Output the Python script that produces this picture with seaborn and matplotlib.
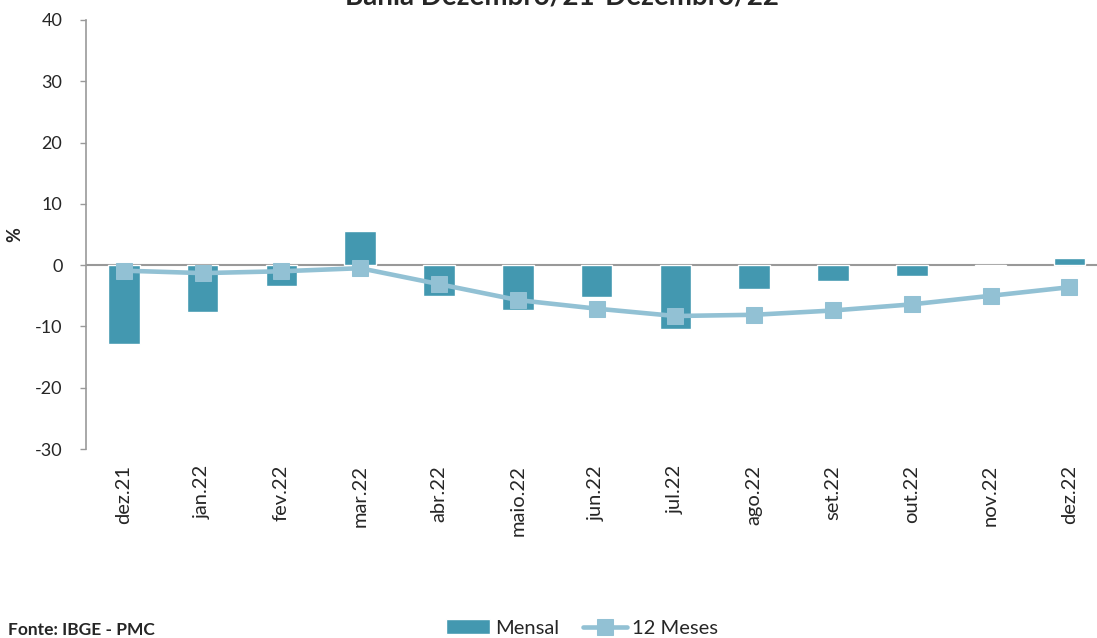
import matplotlib
matplotlib.use("Agg")
import matplotlib.pyplot as plt
import seaborn as sns
import pandas as pd
import numpy as np

categories = ["dez.21", "jan.22", "fev.22", "mar.22", "abr.22", "maio.22", "jun.22",
              "jul.22", "ago.22", "set.22", "out.22", "nov.22", "dez.22"]
mensal = [-12.8, -7.7, -3.4, 5.5, -5.0, -7.4, -5.2, -10.4, -3.9, -2.6, -1.7, -0.1, 1.1]
meses12 = [-0.9, -1.3, -1.0, -0.5, -3.1, -5.7, -7.1, -8.3, -8.1, -7.4, -6.4, -5.0, -3.6]
yticks = [-30, -20, -10, 0, 10, 20, 30, 40]

sns.set_style("white")
plt.rcParams['font.family'] = ['Lato', 'DejaVu Sans']

bar_color = "#4398B0"
line_color = "#92C1D4"

df = pd.DataFrame({"cat": categories, "Mensal": mensal, "12 Meses": meses12})

fig = plt.figure(figsize=(10.97, 6.38), dpi=100)
ax = fig.add_axes([86/1097, (638-449)/638, (1097-86)/1097, (449-20)/638])

sns.barplot(data=df, x="cat", y="Mensal", color=bar_color, width=0.4,
            saturation=1, ax=ax, label="Mensal", zorder=2)
sns.lineplot(data=df, x="cat", y="12 Meses", color=line_color, linewidth=3.3,
             marker="s", markersize=11.5, markeredgecolor=line_color,
             ax=ax, label="12 Meses", zorder=3, sort=False)

ax.axhline(0, color="#999999", linewidth=1.5, zorder=1)
ax.set_ylim(-30, 40)
ax.set_xlim(-0.48, 12.35)
ax.set_yticks(yticks)
ax.set_yticklabels([str(t) for t in yticks], fontsize=13)
ax.tick_params(axis="y", left=True, length=4, width=1, color="#999999", pad=13)
ax.tick_params(axis="x", bottom=False, labelrotation=90, labelsize=14.5, pad=8)
ax.set_xlabel("")
ax.set_ylabel("%", fontsize=13, fontweight="bold", labelpad=8)
for s in ["top", "right", "bottom"]:
    ax.spines[s].set_visible(False)
ax.spines["left"].set_color("#999999")
ax.spines["left"].set_linewidth(1.2)

handles, labels = ax.get_legend_handles_labels()
if ax.legend_:
    ax.legend_.remove()
order = [labels.index("Mensal"), labels.index("12 Meses")]
fig.legend([handles[i] for i in order], [labels[i] for i in order], loc="center",
           bbox_to_anchor=(582/1097, 1 - 628/638),
           ncol=2, frameon=False, fontsize=14.5, handlelength=2.2, columnspacing=1.15,
           handletextpad=0.25)

fig.text(562/1097, 1 - (-4)/638, "Bahia Dezembro/21-Dezembro/22", ha="center",
         va="center", fontsize=20, fontweight="bold")
fig.text(8/1097, 1 - 630/638, "Fonte: IBGE - PMC", ha="left", va="center",
         fontsize=12.5, fontweight="bold")

fig.savefig("out.png", dpi=100)
